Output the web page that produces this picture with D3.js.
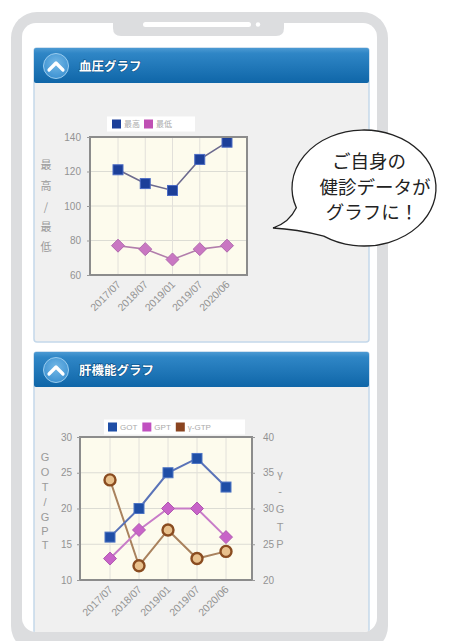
<!DOCTYPE html>
<html><head><meta charset="utf-8">
<script src="https://cdn.jsdelivr.net/npm/d3@7"></script>
<style>
html,body{margin:0;padding:0;background:#fff;}
svg{display:block;}
</style></head>
<body>
<svg id="c" width="454" height="641"></svg>
<script>
// ---- data ----
const categories = ["2017/07", "2018/07", "2019/01", "2019/07", "2020/06"];
const bpHighLabel = "最高";
const bpLowLabel = "最低";
const bpHigh = [121, 113, 109, 127, 137];
const bpLow = [77, 75, 69, 75, 77];
const bpTicks = [60, 80, 100, 120, 140];
const liverSeriesNames = ["GOT", "GPT", "γ-GTP"];
const got = [16, 20, 25, 27, 23];
const gpt = [13, 17, 20, 20, 16];
const ggtp = [34, 22, 27, 23, 24];
const liverLeftTicks = [10, 15, 20, 25, 30];
const liverRightTicks = [20, 25, 30, 35, 40];
const panelTitles = ["血圧グラフ", "肝機能グラフ"];
const bubbleLines = ["ご自身の", "健診データが", "グラフに！"];

const svg = d3.select("#c");
const JP = "'Noto Sans CJK JP', sans-serif";
const SANS = "'Liberation Sans', Arial, sans-serif";

// ---- defs ----
const defs = svg.append("defs");
const hg = defs.append("linearGradient").attr("id","hdr").attr("x1",0).attr("y1",0).attr("x2",0).attr("y2",1);
hg.append("stop").attr("offset","0").attr("stop-color","#4c9ad3");
hg.append("stop").attr("offset","0.15").attr("stop-color","#2f86c6");
hg.append("stop").attr("offset","1").attr("stop-color","#0f66a8");
const cg = defs.append("radialGradient").attr("id","circ").attr("cx","0.5").attr("cy","0.4").attr("r","0.6");
cg.append("stop").attr("offset","0").attr("stop-color","#74b8e6");
cg.append("stop").attr("offset","1").attr("stop-color","#3d92d2");
defs.append("clipPath").attr("id","screen").append("rect")
  .attr("x",22).attr("y",23).attr("width",355).attr("height",609).attr("rx",14);

// ---- phone frame ----
svg.append("rect").attr("x",0).attr("y",0).attr("width",454).attr("height",641).attr("fill","#fff");
svg.append("rect").attr("x",11).attr("y",12).attr("width",377).attr("height",640).attr("rx",26).attr("fill","#dcdddf");
svg.append("rect").attr("x",22).attr("y",23).attr("width",355).attr("height",609).attr("rx",14).attr("fill","#fff");
// notch
svg.append("path").attr("d","M113,22 L284,22 L284,28 Q284,36 276,36 L121,36 Q113,36 113,28 Z").attr("fill","#dcdddf");
svg.append("rect").attr("x",143).attr("y",22).attr("width",108).attr("height",5).attr("rx",2.5).attr("fill","#fff");
svg.append("circle").attr("cx",258).attr("cy",24.5).attr("r",2.2).attr("fill","#fff");

const screen = svg.append("g").attr("clip-path","url(#screen)");

// ---- panels ----
function panel(top, bottom, title) {
  const g = screen.append("g");
  g.append("rect").attr("x",34).attr("y",top).attr("width",335).attr("height",bottom-top).attr("rx",3)
    .attr("fill","#f0f0f0").attr("stroke","#c4d8ea").attr("stroke-width",1.5);
  g.append("rect").attr("x",34).attr("y",top).attr("width",335).attr("height",35).attr("rx",2).attr("fill","url(#hdr)");
  g.append("circle").attr("cx",56).attr("cy",top+18).attr("r",12.5).attr("fill","url(#circ)").attr("stroke","#9accee").attr("stroke-width",1);
  g.append("path").attr("d",`M49,${top+22} L56,${top+15} L63,${top+22}`).attr("fill","none")
    .attr("stroke","#fff").attr("stroke-width",3.2).attr("stroke-linecap","round").attr("stroke-linejoin","round");
  g.append("text").attr("x",79).attr("y",top+23).text(title)
    .attr("font-family",JP).attr("font-size",12.5).attr("font-weight",700).attr("fill","#fff")
    .style("paint-order","stroke").attr("stroke","#0b4f86").attr("stroke-width",1.2);
}
panel(48, 342, panelTitles[0]);
panel(352, 660, panelTitles[1]);

// ---- generic helpers ----
function frame(g, L, T, R, B) {
  g.append("rect").attr("x",L).attr("y",T).attr("width",R-L).attr("height",B-T).attr("fill","#fdfbed");
}
function grid(g, x, y, yTicks, L, T, R, B) {
  g.append("g").selectAll("line.h").data(yTicks.slice(1,-1)).join("line")
    .attr("x1",L).attr("x2",R).attr("y1",d=>y(d)).attr("y2",d=>y(d)).attr("stroke","#dcdcd4").attr("stroke-width",1);
  g.append("g").selectAll("line.v").data(categories).join("line")
    .attr("x1",d=>x(d)).attr("x2",d=>x(d)).attr("y1",T).attr("y2",B).attr("stroke","#e2e0da").attr("stroke-width",1);
}
function border(g, L, T, R, B) {
  g.append("rect").attr("x",L).attr("y",T).attr("width",R-L).attr("height",B-T)
    .attr("fill","none").attr("stroke","#8c8c8c").attr("stroke-width",2);
}
function yAxis(g, axis, xpos) {
  const a = g.append("g").attr("transform",`translate(${xpos},0)`).call(axis);
  a.select(".domain").remove();
  a.selectAll("line").attr("stroke","#999");
  a.selectAll("text").attr("fill","#939393").attr("font-family",SANS).attr("font-size",10);
  return a;
}
function xAxis(g, x, B) {
  const a = g.append("g").attr("transform",`translate(0,${B})`).call(d3.axisBottom(x).tickSize(0));
  a.select(".domain").remove();
  a.selectAll("text").attr("x",0).attr("y",0).attr("dy",0)
    .attr("transform","translate(3,10) rotate(-45)").style("text-anchor","end")
    .attr("fill","#939393").attr("font-family",SANS).attr("font-size",10.5);
}
function vtitle(g, chars, xc, ys, font, size) {
  g.append("g").selectAll("text").data(chars).join("text")
    .attr("x",xc).attr("y",(d,i)=>ys[i]).attr("dy","0.35em").attr("text-anchor","middle")
    .attr("font-family",font).attr("font-size",size).attr("fill","#9a9a9a").text(d=>d);
}
function legend(g, items, x0, yc, boxL, boxR) {
  g.append("rect").attr("x",boxL).attr("y",yc-7.5).attr("width",boxR-boxL).attr("height",15).attr("fill","#fff");
  let x = x0;
  items.forEach(it => {
    g.append("rect").attr("x",x).attr("y",yc-4.5).attr("width",9).attr("height",9).attr("fill",it.c);
    const t = g.append("text").attr("x",x+12).attr("y",yc).attr("dy","0.35em").text(it.t)
      .attr("font-family",it.f).attr("font-size",8).attr("fill","#aaa");
    x += 12 + t.node().getComputedTextLength() + it.gap;
  });
}
function squares(g, data, x, y, fill, stroke, s) {
  g.append("g").selectAll("rect").data(data).join("rect")
    .attr("x",(d,i)=>x(categories[i])-s/2).attr("y",d=>y(d)-s/2).attr("width",s).attr("height",s)
    .attr("fill",fill).attr("stroke",stroke).attr("stroke-width",1);
}
function diamonds(g, data, x, y, fill, stroke, s) {
  g.append("g").selectAll("path").data(data).join("path")
    .attr("d",(d,i)=>{const cx=x(categories[i]), cy=y(d); return `M${cx},${cy-s} L${cx+s},${cy} L${cx},${cy+s} L${cx-s},${cy} Z`;})
    .attr("fill",fill).attr("stroke",stroke).attr("stroke-width",1);
}
function line(g, data, x, y, color, w) {
  g.append("path").datum(data)
    .attr("d", d3.line().x((d,i)=>x(categories[i])).y(d=>y(d)))
    .attr("fill","none").attr("stroke",color).attr("stroke-width",w);
}

// ---- chart 1: blood pressure ----
{
  const g = screen.append("g");
  const L=90, T=137, R=247, B=275;
  const x = d3.scalePoint().domain(categories).range([118, 227]);
  const y = d3.scaleLinear().domain([60, 140]).range([B, T]);
  frame(g,L,T,R,B);
  grid(g,x,y,bpTicks,L,T,R,B);
  line(g,bpHigh,x,y,"#6c6a8e",1.6);
  line(g,bpLow,x,y,"#b27eac",1.6);
  squares(g,bpHigh,x,y,"#1c3f99","#4c6cc4",10);
  diamonds(g,bpLow,x,y,"#c977c2","#b06aad",6.5);
  border(g,L,T,R,B);
  yAxis(g, d3.axisLeft(y).tickValues(bpTicks).tickSize(3).tickPadding(6), L);
  xAxis(g, x, B);
  vtitle(g, ["最","高","/","最","低"], 46, [165,186,207,227,247], JP, 11);
  legend(g, [{t:bpHighLabel,c:"#1c3f99",f:JP,gap:4},{t:bpLowLabel,c:"#c050b4",f:JP,gap:4}], 112, 124, 107, 195);
}

// ---- chart 2: liver function ----
{
  const g = screen.append("g");
  const L=80, T=437, R=252, B=580;
  const x = d3.scalePoint().domain(categories).range([110, 226]);
  const y = d3.scaleLinear().domain([10, 30]).range([B, T]);
  const y2 = d3.scaleLinear().domain([20, 40]).range([B, T]);
  frame(g,L,T,R,B);
  grid(g,x,y,liverLeftTicks,L,T,R,B);
  line(g,ggtp,x,y2,"#a9825e",2);
  line(g,gpt,x,y,"#c87cc8",2);
  line(g,got,x,y,"#5a73b8",2);
  g.append("g").selectAll("circle").data(ggtp).join("circle")
    .attr("cx",(d,i)=>x(categories[i])).attr("cy",d=>y2(d)).attr("r",5.5)
    .attr("fill","#e8c08c").attr("stroke","#8a4c20").attr("stroke-width",2.4);
  diamonds(g,gpt,x,y,"#c863c8","#b05ab0",6.5);
  squares(g,got,x,y,"#1f4ea6","#4d74c4",10);
  border(g,L,T,R,B);
  yAxis(g, d3.axisLeft(y).tickValues(liverLeftTicks).tickSize(3).tickPadding(5), L);
  yAxis(g, d3.axisRight(y2).tickValues(liverRightTicks).tickSize(3).tickPadding(8), R);
  xAxis(g, x, B);
  vtitle(g, ["G","O","T","/","G","P","T"], 45, [457,472,487,502,517,531,545], SANS, 11);
  vtitle(g, ["γ","-","G","T","P"], 280, [474,491,509,527,544], SANS, 11);
  legend(g, [{t:liverSeriesNames[0],c:"#1f4ea6",f:SANS,gap:5},{t:liverSeriesNames[1],c:"#c050c0",f:SANS,gap:5},{t:liverSeriesNames[2],c:"#8a4420",f:SANS,gap:4}], 108, 427, 104, 245);
}

// ---- speech bubble ----
{
  const cx=364, cy=188, rx=72, ry=58;
  const pt = a => [cx + rx*Math.cos(a*Math.PI/180), cy + ry*Math.sin(a*Math.PI/180)];
  const A = pt(160), B = pt(124);
  const d = `M${B[0]},${B[1]} A${rx},${ry} 0 1 0 ${A[0]},${A[1]} Q${289},${223} ${273},${228} Q${296},${229} ${B[0]},${B[1]} Z`;
  svg.append("path").attr("d",d).attr("fill","#fff").attr("stroke","#222").attr("stroke-width",1.3);
  svg.append("g").selectAll("text").data(bubbleLines).join("text")
    .attr("x",(d,i)=>[369,375,372][i]).attr("y",(d,i)=>168+i*25.5).attr("text-anchor","middle")
    .attr("font-family",JP).attr("font-size",18.5).attr("fill","#222").text(d=>d);
}
</script>
</body></html>
